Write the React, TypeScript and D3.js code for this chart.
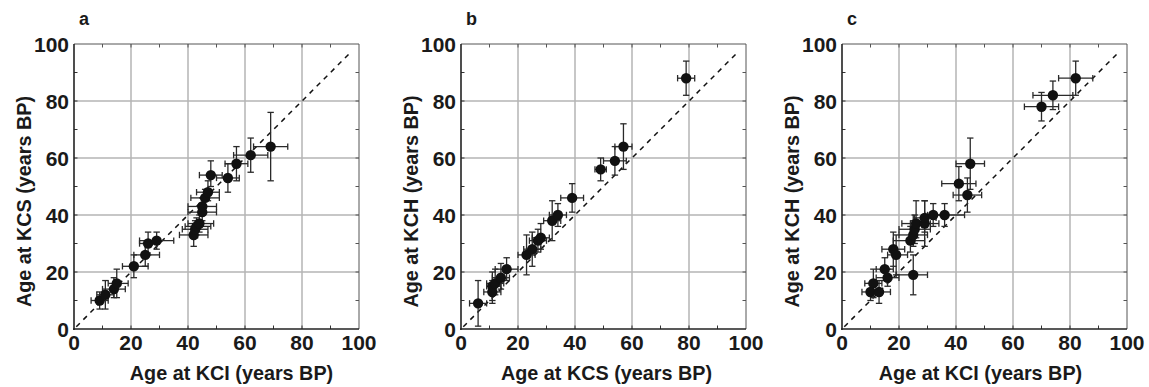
import React from "react";
import * as d3 from "d3";

// ---------- Data ----------
const tickValues = [0, 20, 40, 60, 80, 100];
const minorTicks = [10, 30, 50, 70, 90];
const panelLabels = ["a", "b", "c"];
const xTitles = ["Age at KCI (years BP)", "Age at KCS (years BP)", "Age at KCI (years BP)"];
const yTitles = ["Age at KCS (years BP)", "Age at KCH (years BP)", "Age at KCH (years BP)"];

// Panel a: KCI (x) vs KCS (y)
const aX = [9, 11, 14, 15, 21, 25, 26, 29, 42, 42.5, 43, 44, 45, 45, 46, 47, 48, 54, 57, 62, 69];
const aY = [10, 12, 14, 16, 22, 26, 30, 31, 33, 35, 36, 37, 41, 43, 46, 48, 54, 53, 58, 61, 64];
const aXlo = [6, 8, 10, 12, 17, 21, 23, 23, 37, 38, 39, 40, 40, 40, 41, 43, 44, 50, 53, 56, 63];
const aXhi = [12, 14, 18, 19, 26, 30, 29, 35, 47, 47, 48, 49, 50, 50, 51, 51, 52, 58, 61, 68, 75];
const aYlo = [7, 7, 11, 11, 18, 22, 26, 28, 29, 32, 33, 34, 38, 40, 43, 45, 50, 48, 52, 55, 52];
const aYhi = [13, 17, 18, 21, 26, 30, 34, 34, 36, 38, 39, 40, 44, 46, 49, 52, 59, 58, 64, 67, 76];

// Panel b: KCS (x) vs KCH (y)
const bX = [6, 11, 11, 12, 14, 16, 23, 25, 27, 28, 32, 34, 39, 49, 54, 57, 79];
const bY = [9, 13, 15, 16, 18, 21, 26, 28, 31, 32, 38, 40, 46, 56, 59, 64, 88];
const bXlo = [3, 8, 9, 9, 11, 12, 20, 22, 24, 25, 29, 31, 35, 47, 50, 54, 76];
const bXhi = [9, 14, 14, 15, 17, 20, 26, 28, 30, 31, 35, 37, 43, 51, 58, 60, 82];
const bYlo = [1, 9, 10, 12, 14, 17, 19, 22, 27, 28, 31, 36, 41, 52, 54, 56, 82];
const bYhi = [17, 17, 20, 21, 23, 25, 33, 34, 35, 37, 45, 44, 51, 60, 64, 72, 94];

// Panel c: KCI (x) vs KCH (y)
const cX = [10, 11, 13, 15, 16, 18, 19, 25, 24, 25, 25.5, 26, 29, 29, 32, 36, 41, 44, 45, 70, 74, 82];
const cY = [13, 16, 13, 21, 18, 28, 26, 19, 31, 33, 35, 37, 37, 39, 40, 40, 51, 47, 58, 78, 82, 88];
const cXlo = [7, 8, 10, 12, 12, 14, 16, 19, 18, 20, 20, 21, 24, 25, 29, 30, 35, 39, 40, 64, 67, 76];
const cXhi = [13, 14, 17, 18, 20, 22, 23, 30, 29, 30, 31, 31, 34, 33, 36, 43, 47, 49, 50, 76, 81, 88];
const cYlo = [10, 11, 9, 17, 15, 22, 19, 12, 27, 29, 30, 32, 29, 34, 36, 36, 45, 41, 49, 73, 77, 82];
const cYhi = [16, 21, 17, 25, 21, 34, 33, 26, 36, 38, 40, 45, 45, 45, 44, 44, 57, 53, 67, 83, 87, 94];

const panelData = [
  { x: aX, y: aY, xlo: aXlo, xhi: aXhi, ylo: aYlo, yhi: aYhi },
  { x: bX, y: bY, xlo: bXlo, xhi: bXhi, ylo: bYlo, yhi: bYhi },
  { x: cX, y: cY, xlo: cXlo, xhi: cXhi, ylo: cYlo, yhi: cYhi },
];

// ---------- Layout ----------
const W = 1149;
const H = 387;
const panelLeft = [74, 461, 842];
const plotW = 285;
const plotTop = 44;
const plotBottom = 329;
const xTitleOffset = [15, 3, -4];

const FONT = "'Liberation Sans', Arial, Helvetica, sans-serif";

function Panel({ idx }: { idx: number }) {
  const left = panelLeft[idx];
  const x = d3.scaleLinear().domain([0, 100]).range([left, left + plotW]);
  const y = d3.scaleLinear().domain([0, 100]).range([plotBottom, plotTop]);
  const d = panelData[idx];
  const cap = 3.2;
  const grid = tickValues.filter((t) => t > 0 && t < 100);
  const allTicks = [...minorTicks, ...grid];
  const tl = 3.5;
  const cx = (left + left + plotW) / 2 + xTitleOffset[idx];
  const cy = (plotTop + plotBottom) / 2 + 15;
  return (
    <g>
      {grid.map((t) => (
        <line key={"gx" + t} x1={x(t)} x2={x(t)} y1={plotTop} y2={plotBottom} stroke="#b4b4b4" strokeWidth={1.5} />
      ))}
      {grid.map((t) => (
        <line key={"gy" + t} y1={y(t)} y2={y(t)} x1={left} x2={left + plotW} stroke="#b4b4b4" strokeWidth={1.5} />
      ))}
      <line x1={left} x2={left + plotW} y1={plotTop} y2={plotTop} stroke="#555" strokeWidth={1} />
      <line x1={left + plotW} x2={left + plotW} y1={plotTop} y2={plotBottom} stroke="#555" strokeWidth={1} />
      {allTicks.map((t) => (
        <g key={"t" + t}>
          <line x1={x(t)} x2={x(t)} y1={plotBottom} y2={plotBottom - tl} stroke="#333" strokeWidth={1} />
          <line x1={x(t)} x2={x(t)} y1={plotTop} y2={plotTop + tl} stroke="#555" strokeWidth={1} />
          <line y1={y(t)} y2={y(t)} x1={left} x2={left + tl} stroke="#333" strokeWidth={1} />
          <line y1={y(t)} y2={y(t)} x1={left + plotW} x2={left + plotW - tl} stroke="#555" strokeWidth={1} />
        </g>
      ))}
      <line x1={left} x2={left} y1={plotTop} y2={plotBottom + 1} stroke="#222" strokeWidth={1.6} />
      <line x1={left - 1} x2={left + plotW} y1={plotBottom} y2={plotBottom} stroke="#222" strokeWidth={1.6} />
      <line x1={x(0.8)} y1={y(0.8)} x2={x(97.5)} y2={y(97.5)} stroke="#111" strokeWidth={1.5} strokeDasharray="5,5" />
      {d.x.map((xv, i) => (
        <g key={"e" + i} stroke="#2a2a2a" strokeWidth={1.3}>
          <line x1={x(d.xlo[i])} x2={x(d.xhi[i])} y1={y(d.y[i])} y2={y(d.y[i])} />
          <line x1={x(d.xlo[i])} x2={x(d.xlo[i])} y1={y(d.y[i]) - cap} y2={y(d.y[i]) + cap} />
          <line x1={x(d.xhi[i])} x2={x(d.xhi[i])} y1={y(d.y[i]) - cap} y2={y(d.y[i]) + cap} />
          <line x1={x(xv)} x2={x(xv)} y1={y(d.ylo[i])} y2={y(d.yhi[i])} />
          <line x1={x(xv) - cap} x2={x(xv) + cap} y1={y(d.ylo[i])} y2={y(d.ylo[i])} />
          <line x1={x(xv) - cap} x2={x(xv) + cap} y1={y(d.yhi[i])} y2={y(d.yhi[i])} />
        </g>
      ))}
      {d.x.map((xv, i) => (
        <circle key={"p" + i} cx={x(xv)} cy={y(d.y[i])} r={5.2} fill="#111" />
      ))}
      {tickValues.map((t) => (
        <text key={"xl" + t} x={x(t)} y={plotBottom + 21} textAnchor="middle" fontFamily={FONT} fontWeight="bold" fontSize={21} fill="#1a1a1a">
          {t}
        </text>
      ))}
      {tickValues.map((t) => (
        <text key={"yl" + t} x={left - 5} y={y(t) + 7.5} textAnchor="end" fontFamily={FONT} fontWeight="bold" fontSize={21} fill="#1a1a1a">
          {t}
        </text>
      ))}
      <text x={cx} y={380} textAnchor="middle" fontFamily={FONT} fontWeight="bold" fontSize={19.8} fill="#1a1a1a">
        {xTitles[idx]}
      </text>
      <text transform={`translate(${left - 43},${cy}) rotate(-90)`} textAnchor="middle" fontFamily={FONT} fontWeight="bold" fontSize={19.8} fill="#1a1a1a">
        {yTitles[idx]}
      </text>
      <text x={left + 5} y={25} fontFamily={FONT} fontWeight="bold" fontSize={18} fill="#1a1a1a">
        {panelLabels[idx]}
      </text>
    </g>
  );
}

export default function App() {
  return (
    <svg width={W} height={H} style={{ position: "absolute", left: 0, top: 0, background: "#fff" }}>
      <rect width={W} height={H} fill="#fff" />
      {[0, 1, 2].map((i) => (
        <Panel key={i} idx={i} />
      ))}
    </svg>
  );
}
